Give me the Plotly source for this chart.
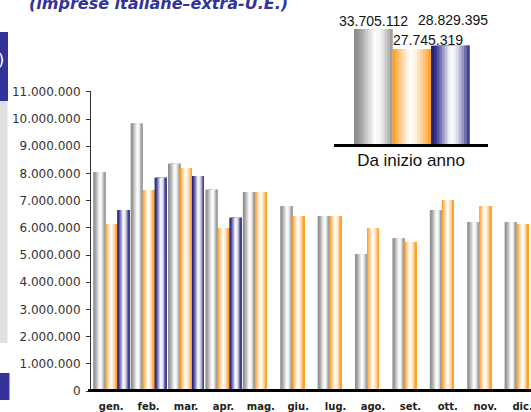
import plotly.graph_objects as go

# ---------------- data ----------------
months = ["gen.", "feb.", "mar.", "apr.", "mag.", "giu.", "lug.", "ago.", "set.", "ott.", "nov.", "dic."]
serie_grigia = [8050000, 9840000, 8360000, 7400000, 7320000, 6800000, 6430000, 5040000, 5620000, 6650000, 6210000, 6210000]
serie_arancio = [6140000, 7390000, 8200000, 5990000, 7320000, 6430000, 6430000, 5990000, 5480000, 7020000, 6800000, 6140000]
serie_blu = [6660000, 7840000, 7910000, 6370000, None, None, None, None, None, None, None, None]

ytd_label = "Da inizio anno"
ytd_grigia = 33705112
ytd_arancio = 27745319
ytd_blu = 28829395

y_tickvals = [0, 1000000, 2000000, 3000000, 4000000, 5000000, 6000000, 7000000, 8000000, 9000000, 10000000, 11000000]
title_text = "(imprese italiane–extra-U.E.)"

# ---------------- helpers ----------------
W, H = 531, 412
def px(x):
    return x / W
def py(y):
    return 1 - y / H

def hex2rgb(h):
    h = h.lstrip('#')
    return tuple(int(h[i:i + 2], 16) for i in (0, 2, 4))

def grad(stops, t):
    for (t0, c0), (t1, c1) in zip(stops[:-1], stops[1:]):
        if t0 <= t <= t1:
            f = (t - t0) / (t1 - t0) if t1 > t0 else 0
            a, b = hex2rgb(c0), hex2rgb(c1)
            r = [round(a[i] + (b[i] - a[i]) * f) for i in range(3)]
            return "rgb(%d,%d,%d)" % tuple(r)
    return stops[-1][1]

GRAY = [(0, '#858585'), (0.2, '#a8a8a8'), (0.4, '#dcdcdc'), (0.55, '#ffffff'), (0.7, '#f0f0f0'), (0.88, '#bcbcbc'), (1, '#969696')]
ORANGE = [(0, '#ff9600'), (0.1, '#ffb04e'), (0.28, '#ffdcb4'), (0.45, '#ffffff'), (0.6, '#fff2e4'), (0.8, '#ffca84'), (1, '#ff9c20')]
BLUE = [(0, '#1c1c78'), (0.12, '#34348c'), (0.32, '#9a9ac8'), (0.5, '#ffffff'), (0.65, '#eaeaf4'), (0.85, '#8a8abc'), (1, '#2c2c80')]

N = 14
fig = go.Figure()

def add_gradient_bars(x, y, base_off, w, stops, xa, ya):
    for k in range(N):
        t = (k + 0.5) / N
        fig.add_trace(go.Bar(
            x=x, y=y, offset=base_off + k * w / N, width=w * (1 - k / N),
            marker=dict(color=grad(stops, t), line=dict(width=0)),
            xaxis=xa, yaxis=ya, hoverinfo='skip', showlegend=False))

# main chart
bw = 0.32
add_gradient_bars(months, serie_grigia, -1.5 * bw, bw, GRAY, 'x', 'y')
add_gradient_bars(months, serie_arancio, -0.5 * bw, bw, ORANGE, 'x', 'y')
add_gradient_bars(months, serie_blu, 0.5 * bw, bw, BLUE, 'x', 'y')

# inset chart
iw = 0.25
i_off = [-0.37, -0.12, 0.13]
add_gradient_bars([ytd_label], [ytd_grigia], i_off[0], iw, GRAY, 'x3', 'y3')
add_gradient_bars([ytd_label], [ytd_arancio], i_off[1], iw, ORANGE, 'x3', 'y3')
add_gradient_bars([ytd_label], [ytd_blu], i_off[2], iw, BLUE, 'x3', 'y3')

def fmt(v):
    return f"{v:,}".replace(",", ".")

ymax = 11050000
lab_font = dict(family="Liberation Sans, Arial", size=14, color="#111111")
annotations = [
    dict(xref='x3', yref='y3', x=i_off[0] + iw / 2, y=ytd_grigia, text=fmt(ytd_grigia), showarrow=False,
         yanchor='bottom', yshift=-2, font=lab_font),
    dict(xref='x3', yref='y3', x=i_off[1] + iw / 2, y=ytd_arancio, text=fmt(ytd_arancio), showarrow=False,
         yanchor='bottom', yshift=-1, xshift=16, font=lab_font),
    dict(xref='x3', yref='y3', x=i_off[2] + iw / 2, y=ytd_blu, text=fmt(ytd_blu), showarrow=False,
         yanchor='bottom', yshift=16, xshift=3, font=lab_font),
    dict(xref='paper', yref='paper', x=px(27), y=py(4), xanchor='left', yanchor='middle', text=title_text,
         showarrow=False, font=dict(family="DejaVu Sans", size=16, color="#333399", weight='bold', style='italic')),
    dict(xref='paper', yref='paper', x=px(6), y=py(60), xanchor='right', yanchor='middle', text=")",
         showarrow=False, font=dict(family="DejaVu Sans", size=16, color="white")),
]

shapes = [
    dict(type='rect', xref='paper', yref='paper', x0=0, x1=px(8), y0=py(101), y1=py(32),
         fillcolor='#33339a', line=dict(width=0), layer='below'),
    dict(type='rect', xref='paper', yref='paper', x0=0, x1=px(7.5), y0=py(343), y1=py(101),
         fillcolor='#e0e0e0', line=dict(width=0), layer='below'),
    dict(type='rect', xref='paper', yref='paper', x0=0, x1=px(9.5), y0=py(400), y1=py(373),
         fillcolor='#33339a', line=dict(width=0), layer='below'),
    dict(type='line', xref='paper', yref='paper', x0=px(88), x1=1, y0=py(390.5), y1=py(390.5),
         line=dict(color='black', width=3)),
]

fig.update_layout(
    width=W, height=H, margin=dict(l=0, r=0, t=0, b=0, pad=0, autoexpand=False),
    paper_bgcolor='white', plot_bgcolor='rgba(0,0,0,0)',
    barmode='overlay', separators=',.', showlegend=False,
    annotations=annotations, shapes=shapes,
    xaxis=dict(domain=[px(91), 1], range=[-0.54, 11.225], showgrid=False, zeroline=False, showline=False,
               ticks='', ticklabelstandoff=8, automargin=False,
               tickfont=dict(family="DejaVu Sans", size=10, color="#222222", weight='bold'), anchor='y'),
    yaxis=dict(domain=[py(391), py(90.5)], range=[0, ymax], tickvals=y_tickvals, tickformat=',d',
               showgrid=False, zeroline=False, showline=True, linecolor='#333333', linewidth=1,
               ticks='outside', ticklen=4, tickcolor='#333333', ticklabelstandoff=3, automargin=False,
               tickfont=dict(family="DejaVu Sans", size=12, color="#333333"), anchor='x'),
    yaxis2=dict(overlaying='y', range=[0, ymax], tickvals=y_tickvals, showticklabels=False, ticks='inside',
                ticklen=5, tickcolor='#333333', showgrid=False, zeroline=False, showline=False, anchor='x',
                side='left', automargin=False),
    xaxis3=dict(domain=[px(334), px(488)], range=[-0.5, 0.5], showgrid=False, zeroline=False,
                showline=True, linecolor='black', linewidth=3, ticks='', anchor='y3',
                ticklabelstandoff=-1, automargin=False,
                tickfont=dict(family="Liberation Sans, Arial", size=17, color="#111111")),
    yaxis3=dict(domain=[py(144), py(10)], range=[0, ytd_grigia * 134 / 115], visible=False, anchor='x3',
                automargin=False),
)

fig.write_html("out.html", config={'displayModeBar': False},
               post_script="document.body.style.margin='0px';document.body.style.overflow='hidden';")
